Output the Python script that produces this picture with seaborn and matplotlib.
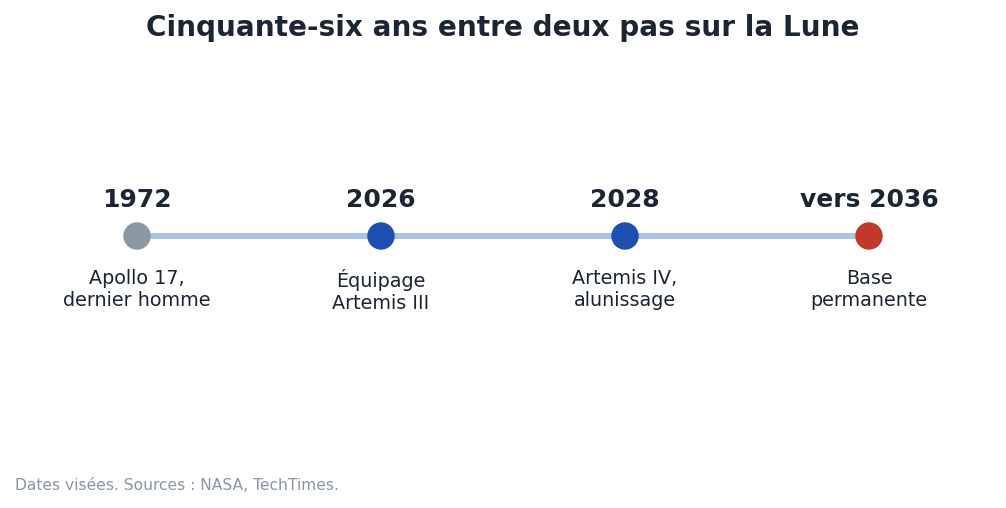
import matplotlib.pyplot as plt
import pandas as pd
import seaborn as sns

# Data
labels = ['1972', '2026', '2028', 'vers 2036']
events = ['Apollo 17,\ndernier homme', 'Équipage\nArtemis III',
          'Artemis IV,\nalunissage', 'Base\npermanente']
status = ['passé', 'prévu', 'prévu', 'objectif']
palette = {'passé': '#8b97a3', 'prévu': '#1c4fb0', 'objectif': '#c0392b'}

df = pd.DataFrame({'pos': range(len(labels)), 'y': 0, 'label': labels,
                   'event': events, 'status': status})

sns.set_theme(style='white')
plt.rcParams['font.family'] = ['DejaVu Sans']
dark = '#1c2533'

fig = plt.figure(figsize=(10.06, 5.08), dpi=100)
ax = fig.add_axes([0, 0, 1, 1])

# Line and points
sns.lineplot(data=df, x='pos', y='y', ax=ax, color='#a8c2e8', lw=4.3,
             zorder=1)
sns.scatterplot(data=df, x='pos', y='y', hue='status', palette=palette,
                s=390, edgecolor='none', legend=False, ax=ax, zorder=2)

for _, r in df.iterrows():
    ax.annotate(r['label'], (r['pos'], r['y']), xytext=(0, 21.2),
                textcoords='offset points', ha='center', va='baseline',
                fontsize=18, fontweight='bold', color=dark)
    ax.annotate(r['event'], (r['pos'], r['y']), xytext=(0, -24),
                textcoords='offset points', ha='center', va='top',
                fontsize=13.8, color=dark, linespacing=1.17)

# Axes layout in pixel-like units
ax.set_xlim(-137 / 244, 3 + 137 / 244)
ax.set_ylim(-272, 236)
ax.set_axis_off()

fig.text(0.5, 1 - 28 / 508, 'Cinquante-six ans entre deux pas sur la Lune',
         ha='center', va='center', fontsize=20.1, fontweight='bold', color=dark)
fig.text(15 / 1006, 1 - 485 / 508, 'Dates visées. Sources : NASA, TechTimes.',
         ha='left', va='center', fontsize=11.2, color='#8a96a6')

fig.savefig('out.png', dpi=100)
